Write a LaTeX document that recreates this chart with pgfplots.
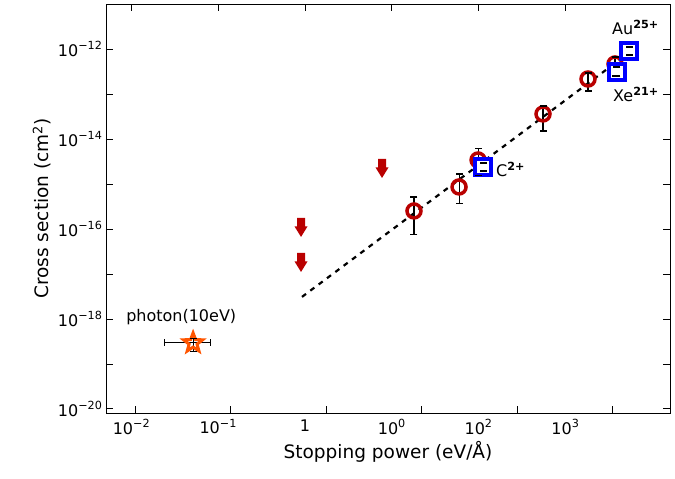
\documentclass[border=0pt]{standalone}
\usepackage{pgfplots}
\pgfplotsset{compat=1.18}
\usepackage{fontspec}
\setmainfont{DejaVu Sans}
\definecolor{dred}{RGB}{185,0,0}
\definecolor{sblue}{RGB}{0,0,255}
\definecolor{sorange}{RGB}{255,85,0}
\pgfdeclareplotmark{darrow}{%
 \pgfpathmoveto{\pgfpoint{-4pt}{9.5pt}}%
 \pgfpathlineto{\pgfpoint{4pt}{9.5pt}}%
 \pgfpathlineto{\pgfpoint{4pt}{1pt}}%
 \pgfpathlineto{\pgfpoint{6.5pt}{1pt}}%
 \pgfpathlineto{\pgfpoint{0pt}{-9.5pt}}%
 \pgfpathlineto{\pgfpoint{-6.5pt}{1pt}}%
 \pgfpathlineto{\pgfpoint{-4pt}{1pt}}%
 \pgfpathclose
 \pgfusepathqfill}
\pgfdeclareplotmark{pstar}{%
 \pgfpathmoveto{\pgfpoint{0pt}{10pt}}%
 \pgfpathlineto{\pgfpoint{2.469pt}{3.398pt}}%
 \pgfpathlineto{\pgfpoint{9.511pt}{3.090pt}}%
 \pgfpathlineto{\pgfpoint{3.994pt}{-1.298pt}}%
 \pgfpathlineto{\pgfpoint{5.878pt}{-8.090pt}}%
 \pgfpathlineto{\pgfpoint{0pt}{-4.2pt}}%
 \pgfpathlineto{\pgfpoint{-5.878pt}{-8.090pt}}%
 \pgfpathlineto{\pgfpoint{-3.994pt}{-1.298pt}}%
 \pgfpathlineto{\pgfpoint{-9.511pt}{3.090pt}}%
 \pgfpathlineto{\pgfpoint{-2.469pt}{3.398pt}}%
 \pgfpathclose
 \pgfusepathqstroke}
\newcommand{\sfs}{\fontsize{16}{19}\selectfont}
\pgfplotsset{myvbar/.style={black, line width=1.1pt, mark=-, mark size=3.5pt, mark options={solid, line width=1.1pt}},
  myhbar/.style={black, line width=1.1pt, mark=|, mark size=3.5pt, mark options={solid, line width=1.1pt}}}
\begin{document}
\begin{tikzpicture}
\useasboundingbox (-106pt,-66pt) rectangle (569pt,413pt);
% bottom ticks (own positions)
\begin{axis}[
  at={(0,0)}, anchor=south west,
  scale only axis, width=564pt, height=409pt,
  xmode=log, xmin=0.00509, xmax=16030, ymin=0, ymax=1,
  axis line style={draw=none},
  xtick={0.011,0.1367,1.745,21.70,276.9,3443},
  xticklabels={,,,,,}, xtick pos=left, ytick=\empty,
  xminorticks=false,
  tick align=inside, major tick length=7pt,
  tick style={black, line width=0.8pt},
]
\end{axis}
\begin{axis}[
  at={(0,0)}, anchor=south west,
  scale only axis, width=564pt, height=409pt,
  xmode=log, ymode=log,
  xmin=0.00509, xmax=16030, ymin=8.1e-21, ymax=1e-11,
  xtick={0.01,0.1,1,10,100,1000},
  xticklabels={10\textsuperscript{−2},10\textsuperscript{−1},1,10\textsuperscript{0},10\textsuperscript{2},10\textsuperscript{3}},
  xtick pos=right, xticklabel pos=left,
  ytick={1e-20,1e-19,1e-18,1e-17,1e-16,1e-15,1e-14,1e-13,1e-12},
  yticklabels={10\textsuperscript{−20},,10\textsuperscript{−18},,10\textsuperscript{−16},,10\textsuperscript{−14},,10\textsuperscript{−12}},
  xminorticks=false, yminorticks=false,
  tick align=inside, major tick length=7pt,
  tick style={black, line width=0.8pt},
  axis line style={line width=0.8pt},
  ticklabel style={font=\sfs},
  xticklabel style={yshift=-3pt},
  label style={font=\fontsize{18.5}{22}\selectfont},
  xlabel={Stopping power (eV/Å)},
  ylabel={Cross section (cm\textsuperscript{2})},
  clip=false,
]
% fit line
\addplot[black, line width=2.2pt, dash pattern=on 5pt off 5.4pt] coordinates {(0.923,3.09e-18) (5545,8.57e-13)};
% upper limits
\addplot[only marks, mark=darrow, mark options={fill=dred, draw=none}] table {
x y
7.71 2.21e-15
0.899 1.08e-16
0.899 1.80e-17
};
% circles
\addplot[only marks, mark=o, mark size=7pt, mark options={draw=dred, line width=3.5pt}] table {
x y
18.0 2.51e-16
59.5 8.57e-16
98.5 3.41e-15
552 3.60e-14
1821 2.153e-13
3727 4.65e-13
};
% squares
\addplot[only marks, mark=square*, mark size=8pt, mark options={draw=sblue, fill=white, line width=4pt}] table {
x y
112.4 2.39e-15
3928 3.08e-13
5405 9.03e-13
};
% star
\addplot[only marks, mark=pstar, mark options={draw=sorange, line width=3pt}] table {
x y
0.0513 2.93e-19
};
% error bars (low, high)
\addplot[myvbar] coordinates {(18.0,7.36e-17) (18.0,5.14e-16)};
\addplot[myvbar] coordinates {(59.5,3.60e-16) (59.5,1.667e-15)};
\addplot[myvbar] coordinates {(98.5,1.507e-15) (98.5,6.0e-15)};
\addplot[myvbar] coordinates {(552,1.507e-14) (552,5.41e-14)};
\addplot[myvbar] coordinates {(1821,1.167e-13) (1821,2.93e-13)};
\addplot[myvbar] coordinates {(3727,2.51e-13) (3727,6.64e-13)};
\addplot[myvbar] coordinates {(112.4,1.945e-15) (112.4,2.93e-15)};
\addplot[myvbar] coordinates {(3928,2.51e-13) (3928,3.98e-13)};
\addplot[myvbar] coordinates {(5405,7.36e-13) (5405,1.107e-12)};
\addplot[myvbar] coordinates {(0.0513,1.85e-19) (0.0513,3.6e-19)};
\addplot[myhbar] coordinates {(0.0238,2.93e-19) (0.0805,2.93e-19)};
\node[anchor=base west, font=\sfs, inner sep=0pt] at (axis cs:0.00867,8.58e-19) {photon(10eV)};
\node[anchor=base west, font=\sfs, inner sep=0pt] at (axis cs:158.7,1.431e-15) {C\textsuperscript{\bfseries 2+}};
\node[anchor=base west, font=\sfs, inner sep=0pt] at (axis cs:3443,2.05e-12) {Au\textsuperscript{\bfseries 25+}};
\node[anchor=base west, font=\sfs, inner sep=0pt] at (axis cs:3534,6.64e-14) {Xe\textsuperscript{\bfseries 21+}};
\end{axis}
\end{tikzpicture}
\end{document}
